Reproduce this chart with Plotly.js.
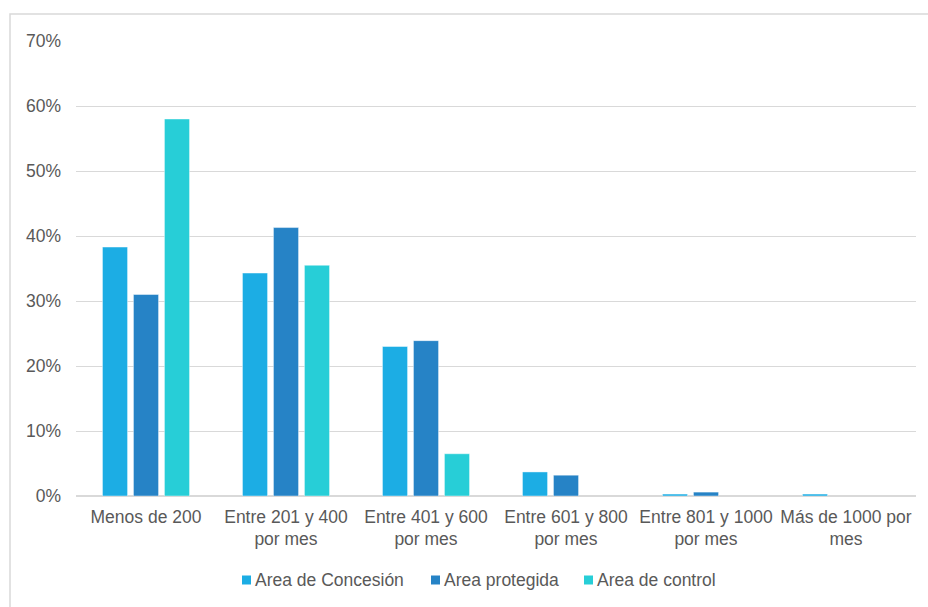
<!DOCTYPE html>
<html>
<head>
<meta charset="utf-8">
<script src="https://cdn.plot.ly/plotly-3.0.1.min.js"></script>
<style>
  html, body { margin: 0; padding: 0; background: #ffffff; }
  #chart { width: 928px; height: 607px; }
</style>
</head>
<body>
<div id="chart"></div>
<script>
// Income brackets (monthly) and share of households per area, in percent
const categories = [
  'Menos de 200',
  'Entre 201 y 400<br>por mes',
  'Entre 401 y 600<br>por mes',
  'Entre 601 y 800<br>por mes',
  'Entre 801 y 1000<br>por mes',
  'Más de 1000 por<br>mes'
];
const seriesNames = ['Area de Concesión', 'Area protegida', 'Area de control'];
const concesion = [38.3, 34.3, 23.0, 3.7, 0.3, 0.3];
const protegida = [31.0, 41.3, 23.9, 3.2, 0.6, 0];
const control   = [58.0, 35.5, 6.5, 0, 0, 0];
const yTicks = [0, 10, 20, 30, 40, 50, 60, 70];

const colors = ['#1CADE4', '#2683C6', '#27CED7'];
const values = [concesion, protegida, control];

const traces = values.map((v, i) => ({
  type: 'bar',
  name: seriesNames[i],
  x: categories,
  y: v,
  marker: {
    color: colors[i],
    // thin light edge on bars; none on empty bars
    line: { width: v.map(d => (d > 0 ? 0.8 : 0)), color: 'rgba(255,255,255,0.55)' }
  },
  hoverinfo: 'y+name'
}));

const fontFamily = 'Liberation Sans, Arial, sans-serif';
const fontSize = 17.5;
const textColor = '#595959';

// Plot area in pixels, used to place the frame and the legend row
const plotLeft = 76, plotRight = 916, plotTop = 41, plotBottom = 496;
const px = x => (x - plotLeft) / (plotRight - plotLeft);
const py = y => (plotBottom - y) / (plotBottom - plotTop);

// Legend row: colour square followed by the series name
const legendSquares = [242, 431, 584];
const legendY = 580;
const legendShapes = legendSquares.map((x, i) => ({
  type: 'rect', xref: 'paper', yref: 'paper',
  x0: px(x), x1: px(x + 9), y0: py(legendY + 4.5), y1: py(legendY - 4.5),
  fillcolor: colors[i], line: { width: 0 }
}));
const legendText = legendSquares.map((x, i) => ({
  xref: 'paper', yref: 'paper',
  x: px(x + 11), y: py(legendY),
  xanchor: 'left', yanchor: 'middle',
  text: seriesNames[i], showarrow: false,
  font: { family: fontFamily, size: fontSize, color: textColor }
}));

const layout = {
  width: 928,
  height: 607,
  margin: { l: plotLeft, r: 928 - plotRight, t: plotTop, b: 607 - plotBottom },
  paper_bgcolor: '#ffffff',
  plot_bgcolor: '#ffffff',
  font: { family: fontFamily, size: fontSize, color: textColor },
  barmode: 'group',
  bargap: 0.336,
  bargroupgap: 0.19,
  showlegend: false,
  xaxis: {
    type: 'category',
    tickfont: { family: fontFamily, size: fontSize, color: textColor },
    showgrid: false,
    showline: false,
    ticks: '',
    ticklabelstandoff: 8,
    fixedrange: true
  },
  yaxis: {
    range: [0, 70],
    tickvals: yTicks,
    ticktext: yTicks.map(t => t + '%'),
    tickfont: { family: fontFamily, size: fontSize, color: textColor },
    showgrid: true,
    gridcolor: '#d9d9d9',
    gridwidth: 1,
    zeroline: true,
    zerolinecolor: '#d9d9d9',
    zerolinewidth: 1.5,
    showline: false,
    ticks: '',
    ticklabelstandoff: 14,
    fixedrange: true
  },
  shapes: [
    {
      // outer chart frame (top and left edges)
      type: 'path',
      xref: 'paper', yref: 'paper',
      path: 'M ' + px(930) + ',' + py(14) + ' L ' + px(10) + ',' + py(14) +
            ' L ' + px(10) + ',' + py(610),
      line: { color: '#d9d9d9', width: 1.5 },
      layer: 'below'
    }
  ].concat(legendShapes),
  annotations: legendText
};

Plotly.newPlot('chart', traces, layout, { displayModeBar: false, staticPlot: true });
</script>
</body>
</html>
